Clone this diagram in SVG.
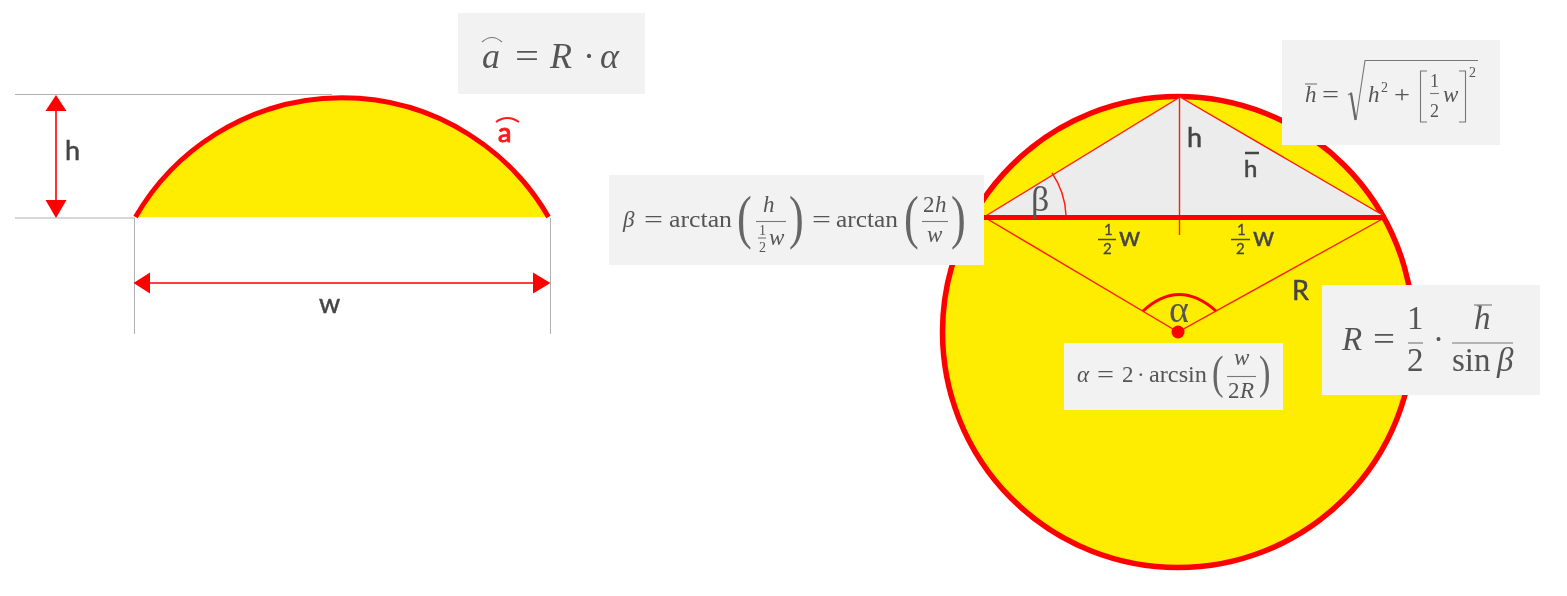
<svg xmlns="http://www.w3.org/2000/svg" width="1567" height="596" viewBox="0 0 1567 596">
<defs><filter id="soft" x="0" y="0" width="100%" height="100%" filterUnits="userSpaceOnUse" primitiveUnits="userSpaceOnUse"><feGaussianBlur stdDeviation="0.45"/></filter></defs>
<style>
.box{fill:#f2f2f2}
.dim{stroke:#b0b0b0;stroke-width:1;fill:none}
.thin{stroke:#ff1a10;stroke-width:1.400;fill:none}
.arrow{stroke:#ff0000;stroke-width:1.600;fill:none}
.head{fill:#ff0000}
.heavy{stroke:#ff0000;fill:none}
.lab{font-family:"Lato","Open Sans",sans-serif;fill:#444;font-size:27px;stroke:#444;stroke-width:.5}
.lab2{font-family:"Lato","Open Sans",sans-serif;fill:#444;font-size:15px;stroke:#444;stroke-width:.3}
.greek{font-family:"Liberation Serif",serif;fill:#555;font-size:36px}
.m{font-family:"Liberation Serif",serif;fill:#555;font-size:23px}
.i{font-style:italic}
.r{stroke:#777;stroke-width:1.100;fill:none}
.sm{font-size:14px}
.big{fill:#666}
</style>
<rect width="1567" height="596" fill="#fff"/>
<g filter="url(#soft)">
<g id="segment">
<path d="M135 217A238.500 238.500 0 0 1 549 217Z" fill="#ffed00"/>
<path d="M135.500 217A238.500 238.500 0 0 1 548.500 217" class="heavy" stroke-width="5"/>
</g>

<g id="circle">
<circle cx="1178" cy="332" r="235.500" fill="#ffed00" stroke="#ff0000" stroke-width="5.500"/>
<path d="M984 217L1180 97L1386 217Z" fill="#ececec"/>
</g>

<g id="connectors">
<path class="dim" d="M15 94.500H332M15 218H135M134.500 218V334M550.500 218V334"/>
<path class="arrow" d="M56 108V204M148 283H536"/>
<path class="head" d="M56 95L66.500 111H45.500ZM56 218L66.500 200H45.500ZM133.500 283L150 272.500V293.500ZM550.500 283L533 272.500V293.500Z"/>
<path class="thin" d="M984 217L1180 97L1386 217M1179.500 97V235M984 217L1178 332L1386 217M1052 173A81 81 0 0 1 1066 215"/>
<path class="heavy" stroke-width="5" d="M984 217.500H1386"/>
<path class="heavy" stroke-width="3" d="M1143 311Q1179 278 1216 311"/>
<circle cx="1178" cy="332" r="6.500" class="head"/>
</g>

<g id="label-h"><text class="lab" x="65" y="160">h</text></g>
<g id="label-w"><text class="lab" x="319" y="313">w</text></g>
<g id="label-arc-a">
<text class="lab" x="498" y="142" style="fill:#ff1a1a;stroke:#ff1a1a;stroke-width:1">a</text>
<path d="M496 122Q507 114 519 122" fill="none" stroke="#ff1a1a" stroke-width="2"/>
</g>
<g id="label-beta"><text class="greek" x="1031" y="211">β</text></g>
<g id="label-h2"><text class="lab" x="1187" y="147">h</text></g>
<g id="label-hbar"><text class="lab" x="1244" y="177" style="font-size:24px">h</text><path d="M1245 153H1259" stroke="#444" stroke-width="2.500"/></g>
<g id="label-half-1"><text class="lab2" x="1104" y="235">1</text><path d="M1098 239.500H1116" stroke="#444" stroke-width="1.500"/><text class="lab2" x="1103" y="254">2</text><text class="lab" x="1119" y="246">w</text></g>
<g id="label-half-2"><text class="lab2" x="1237" y="235">1</text><path d="M1231 239.500H1250" stroke="#444" stroke-width="1.500"/><text class="lab2" x="1236" y="254">2</text><text class="lab" x="1253" y="246">w</text></g>
<g id="label-R"><text class="lab" x="1292" y="300">R</text></g>
<g id="label-alpha"><text class="greek" x="1169" y="322" style="font-size:38px">α</text></g>

<g id="formula-arc">
<rect class="box" x="458" y="13" width="187" height="81"/>
<text class="m i" x="482" y="68" style="font-size:36px">a</text>
<path class="r" d="M482 42Q492 33 502 42"/>
<text class="m" x="515" y="68" style="font-size:36px" textLength="24" lengthAdjust="spacingAndGlyphs">=</text>
<text class="m i" x="550" y="68" style="font-size:36px">R</text>
<text class="m" x="583" y="68" style="font-size:36px">·</text>
<text class="m i" x="600" y="68" style="font-size:36px">α</text>
</g>

<g id="formula-beta">
<rect class="box" x="609" y="175" width="375" height="90"/>
<text class="m i" x="623" y="227">β</text>
<text class="m" x="644" y="227" textLength="19" lengthAdjust="spacingAndGlyphs">=</text>
<text class="m" x="669" y="227" textLength="63" lengthAdjust="spacingAndGlyphs">arctan</text>
<text class="m big" transform="translate(737 237) scale(.75 1)" style="font-size:59px">(</text>
<text class="m i" x="763" y="212">h</text>
<path class="r" d="M756 221.500H786"/>
<text class="m sm" x="759" y="235">1</text>
<path class="r" d="M758 238H766"/>
<text class="m sm" x="759" y="252">2</text>
<text class="m i" x="769" y="245">w</text>
<text class="m big" transform="translate(789 237) scale(.75 1)" style="font-size:59px">)</text>
<text class="m" x="812" y="227" textLength="19" lengthAdjust="spacingAndGlyphs">=</text>
<text class="m" x="836" y="227" textLength="62" lengthAdjust="spacingAndGlyphs">arctan</text>
<text class="m big" transform="translate(904 237) scale(.75 1)" style="font-size:59px">(</text>
<text class="m" x="923" y="212">2</text>
<text class="m i" x="935" y="212">h</text>
<path class="r" d="M922 221.500H948"/>
<text class="m i" x="927" y="242">w</text>
<text class="m big" transform="translate(951 237) scale(.75 1)" style="font-size:59px">)</text>
</g>

<g id="formula-hbar">
<rect class="box" x="1282" y="40" width="218" height="105"/>
<text class="m i" x="1305" y="102">h</text>
<path class="r" d="M1305 84H1317"/>
<text class="m" x="1322" y="102" textLength="17" lengthAdjust="spacingAndGlyphs">=</text>
<path class="r" d="M1348 95L1351 93L1356 120L1365 60.500H1478"/>
<path d="M1351 93L1355.500 120" stroke="#666" stroke-width="2.200" fill="none"/>
<text class="m i" x="1368" y="102">h</text>
<text class="m sm" x="1381" y="92">2</text>
<text class="m" x="1394" y="102" textLength="16" lengthAdjust="spacingAndGlyphs">+</text>
<path class="r" d="M1427 71H1420.500V122H1427M1459 71H1465.500V122H1459"/>
<text class="m" x="1430" y="87" style="font-size:18px">1</text>
<path class="r" d="M1430 93.500H1439"/>
<text class="m" x="1430" y="117" style="font-size:18px">2</text>
<text class="m i" x="1443" y="102">w</text>
<text class="m sm" x="1469" y="77">2</text>
</g>

<g id="formula-alpha">
<rect class="box" x="1064" y="343" width="219" height="67"/>
<text class="m i" x="1077" y="382">α</text>
<text class="m" x="1097" y="382" textLength="17" lengthAdjust="spacingAndGlyphs">=</text>
<text class="m" x="1122" y="382">2</text>
<text class="m" x="1137" y="382">·</text>
<text class="m" x="1149" y="382" textLength="58" lengthAdjust="spacingAndGlyphs">arcsin</text>
<text class="m big" transform="translate(1212 388) scale(.75 1)" style="font-size:46px">(</text>
<text class="m i" x="1234" y="365">w</text>
<path class="r" d="M1227 376.500H1256"/>
<text class="m" x="1228" y="398">2</text>
<text class="m i" x="1240" y="398">R</text>
<text class="m big" transform="translate(1259 388) scale(.75 1)" style="font-size:46px">)</text>
</g>

<g id="formula-R">
<rect class="box" x="1322" y="285" width="218" height="110"/>
<text class="m i" x="1342" y="350" style="font-size:33px">R</text>
<text class="m" x="1373" y="350" style="font-size:33px" textLength="22" lengthAdjust="spacingAndGlyphs">=</text>
<text class="m" x="1407" y="329" style="font-size:33px">1</text>
<path class="r" d="M1408 343H1423"/>
<text class="m" x="1407" y="371" style="font-size:33px">2</text>
<text class="m" x="1433" y="350" style="font-size:33px">·</text>
<text class="m i" x="1474" y="329" style="font-size:33px">h</text>
<path class="r" d="M1474 305H1492"/>
<path class="r" d="M1452 343H1513"/>
<text class="m" x="1452" y="371" style="font-size:33px">sin</text>
<text class="m i" x="1497" y="371" style="font-size:33px">β</text>
</g>
</g>
</svg>
